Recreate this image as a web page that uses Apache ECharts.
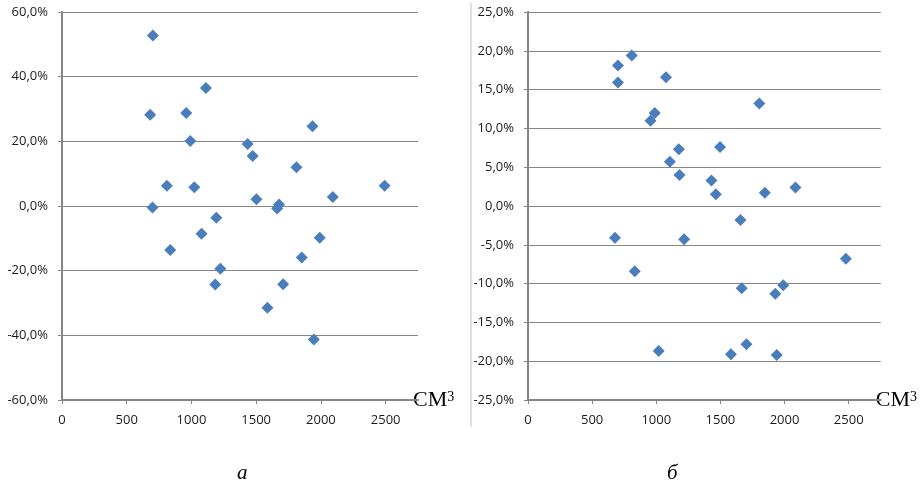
<!DOCTYPE html>
<html>
<head>
<meta charset="utf-8">
<script src="https://cdn.jsdelivr.net/npm/echarts@6/dist/echarts.min.js"></script>
<style>
    html, body { margin: 0; padding: 0; background: #fff; }
    #chart { width: 920px; height: 487px; }
</style>
</head>
<body>
<div id="chart"></div>
<script>
// chart a: volume (cm3) vs relative error, %
let volA = [702, 681, 960, 1112, 991, 1434, 1473, 1935, 1811, 810, 1022, 2492, 2092, 1502,
    1677, 1662, 699, 1192, 1078, 836, 1223, 1184, 1708, 1991, 1852, 1587, 1945];
let errA = [52.7, 28.2, 28.8, 36.5, 20.1, 19.2, 15.5, 24.7, 12.0, 6.3, 5.8, 6.3, 2.8, 2.1,
    0.5, -0.8, -0.5, -3.6, -8.6, -13.6, -19.4, -24.3, -24.2, -9.8, -15.9, -31.5, -41.3];

// chart б
let volB = [701, 701, 809, 1076, 988, 955, 1803, 1176, 1497, 1106, 1181, 1430, 1464, 1846,
    2085, 1656, 678, 1217, 832, 2478, 1666, 1928, 1990, 1019, 1582, 1703, 1939];
let errB = [18.1, 15.9, 19.4, 16.6, 12.0, 11.0, 13.2, 7.3, 7.6, 5.7, 4.0, 3.3, 1.5, 1.7,
    2.4, -1.8, -4.1, -4.3, -8.4, -6.8, -10.6, -11.3, -10.2, -18.7, -19.1, -17.8, -19.2];

let captions = ["а", "б"];

function pct(v) {
    return v.toFixed(1).replace(".", ",") + "%";
}

function makeX(gridIndex) {
    return {
        type: "value",
        gridIndex: gridIndex,
        min: 0,
        max: 2750,
        interval: 500,
        name: "{a|СМ}{b|3}",
        nameLocation: "end",
        nameGap: -5,
        nameTextStyle: {
            rich: {
                a: {fontFamily: "Liberation Serif", fontSize: 22, color: "#000"},
                b: {fontFamily: "Liberation Serif", fontSize: 14, color: "#000", padding: [0, 0, 6, 0]}
            }
        },
        axisLine: {show: true, onZero: false, lineStyle: {color: "#868686", width: 2}},
        axisTick: {show: true, length: 4, lineStyle: {color: "#868686"}},
        axisLabel: {
            showMaxLabel: false,
            formatter: v => String(v),
            margin: 14,
            color: "#1a1a1a",
            fontFamily: "Open Sans",
            fontSize: 13
        },
        splitLine: {show: false}
    };
}

function makeY(gridIndex, min, max, interval) {
    return {
        type: "value",
        gridIndex: gridIndex,
        min: min,
        max: max,
        interval: interval,
        axisLine: {show: true, lineStyle: {color: "#868686", width: 2}},
        axisTick: {show: true, length: 4, lineStyle: {color: "#868686"}},
        axisLabel: {
            formatter: pct,
            margin: 14,
            color: "#1a1a1a",
            fontFamily: "Open Sans",
            fontSize: 13
        },
        splitLine: {show: true, lineStyle: {color: "#868686", width: 1}}
    };
}

function pairs(xs, ys) {
    return xs.map((x, i) => [x, ys[i]]);
}

let chart = echarts.init(document.getElementById("chart"));
let option = {
    animation: false,
    grid: [
        {left: 62, top: 12, width: 356, height: 388},
        {left: 528, top: 12, width: 357, height: 388}
    ],
    xAxis: [makeX(0), makeX(1)],
    yAxis: [makeY(0, -60, 60, 20), makeY(1, -25, 25, 5)],
    series: [
        {
            type: "scatter",
            xAxisIndex: 0,
            yAxisIndex: 0,
            symbol: "diamond",
            symbolSize: 12,
            itemStyle: {color: "#4a7ebb", opacity: 1},
            data: pairs(volA, errA)
        },
        {
            type: "scatter",
            xAxisIndex: 1,
            yAxisIndex: 1,
            symbol: "diamond",
            symbolSize: 12,
            itemStyle: {color: "#4a7ebb", opacity: 1},
            data: pairs(volB, errB)
        }
    ],
    graphic: [
        {
            type: "line",
            shape: {x1: 471, y1: 3, x2: 471, y2: 427},
            style: {stroke: "#c0c0c0", lineWidth: 1}
        },
        {
            type: "text",
            left: 237,
            top: 463,
            style: {text: captions[0], font: "italic 21px 'Liberation Serif'", fill: "#000"}
        },
        {
            type: "text",
            left: 667,
            top: 463,
            style: {text: captions[1], font: "italic 21px 'Liberation Serif'", fill: "#000"}
        }
    ]
};
chart.setOption(option);
</script>
</body>
</html>
